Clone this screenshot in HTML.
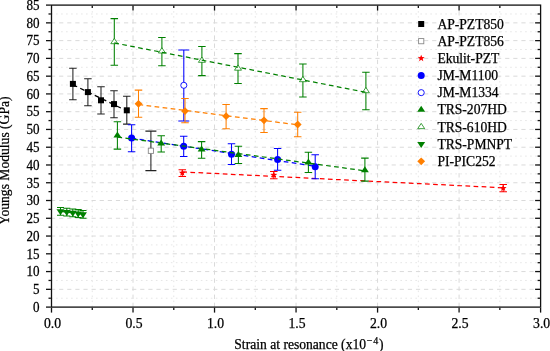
<!DOCTYPE html>
<html><head><meta charset="utf-8"><style>
html,body{margin:0;padding:0;background:#fff;}
svg{display:block;will-change:transform;}
text{font-family:'Liberation Serif',serif;fill:#000;stroke:#000;stroke-width:0.25px;}
</style></head><body>
<svg width="550" height="351" viewBox="0 0 550 351">
<rect width="550" height="351" fill="#fff"/>
<line x1="51.5" y1="298.22" x2="540.6" y2="298.22" stroke="#e6e6e6" stroke-width="1" stroke-dasharray="1.6 3.39" stroke-dashoffset="0.4"/>
<line x1="51.5" y1="280.45" x2="540.6" y2="280.45" stroke="#e6e6e6" stroke-width="1" stroke-dasharray="1.6 3.39" stroke-dashoffset="0.4"/>
<line x1="51.5" y1="262.69" x2="540.6" y2="262.69" stroke="#e6e6e6" stroke-width="1" stroke-dasharray="1.6 3.39" stroke-dashoffset="0.4"/>
<line x1="51.5" y1="244.92" x2="540.6" y2="244.92" stroke="#e6e6e6" stroke-width="1" stroke-dasharray="1.6 3.39" stroke-dashoffset="0.4"/>
<line x1="51.5" y1="227.16" x2="540.6" y2="227.16" stroke="#e6e6e6" stroke-width="1" stroke-dasharray="1.6 3.39" stroke-dashoffset="0.4"/>
<line x1="51.5" y1="209.39" x2="540.6" y2="209.39" stroke="#e6e6e6" stroke-width="1" stroke-dasharray="1.6 3.39" stroke-dashoffset="0.4"/>
<line x1="51.5" y1="191.63" x2="540.6" y2="191.63" stroke="#e6e6e6" stroke-width="1" stroke-dasharray="1.6 3.39" stroke-dashoffset="0.4"/>
<line x1="51.5" y1="173.86" x2="540.6" y2="173.86" stroke="#e6e6e6" stroke-width="1" stroke-dasharray="1.6 3.39" stroke-dashoffset="0.4"/>
<line x1="51.5" y1="156.10" x2="540.6" y2="156.10" stroke="#e6e6e6" stroke-width="1" stroke-dasharray="1.6 3.39" stroke-dashoffset="0.4"/>
<line x1="51.5" y1="138.34" x2="540.6" y2="138.34" stroke="#e6e6e6" stroke-width="1" stroke-dasharray="1.6 3.39" stroke-dashoffset="0.4"/>
<line x1="51.5" y1="120.57" x2="540.6" y2="120.57" stroke="#e6e6e6" stroke-width="1" stroke-dasharray="1.6 3.39" stroke-dashoffset="0.4"/>
<line x1="51.5" y1="102.81" x2="540.6" y2="102.81" stroke="#e6e6e6" stroke-width="1" stroke-dasharray="1.6 3.39" stroke-dashoffset="0.4"/>
<line x1="51.5" y1="85.04" x2="540.6" y2="85.04" stroke="#e6e6e6" stroke-width="1" stroke-dasharray="1.6 3.39" stroke-dashoffset="0.4"/>
<line x1="51.5" y1="67.28" x2="540.6" y2="67.28" stroke="#e6e6e6" stroke-width="1" stroke-dasharray="1.6 3.39" stroke-dashoffset="0.4"/>
<line x1="51.5" y1="49.51" x2="540.6" y2="49.51" stroke="#e6e6e6" stroke-width="1" stroke-dasharray="1.6 3.39" stroke-dashoffset="0.4"/>
<line x1="51.5" y1="31.75" x2="540.6" y2="31.75" stroke="#e6e6e6" stroke-width="1" stroke-dasharray="1.6 3.39" stroke-dashoffset="0.4"/>
<line x1="51.5" y1="13.98" x2="540.6" y2="13.98" stroke="#e6e6e6" stroke-width="1" stroke-dasharray="1.6 3.39" stroke-dashoffset="0.4"/>
<line x1="92.26" y1="307.1" x2="92.26" y2="5.1" stroke="#e6e6e6" stroke-width="1" stroke-dasharray="1.6 3.39"/>
<line x1="173.78" y1="307.1" x2="173.78" y2="5.1" stroke="#e6e6e6" stroke-width="1" stroke-dasharray="1.6 3.39"/>
<line x1="255.29" y1="307.1" x2="255.29" y2="5.1" stroke="#e6e6e6" stroke-width="1" stroke-dasharray="1.6 3.39"/>
<line x1="336.81" y1="307.1" x2="336.81" y2="5.1" stroke="#e6e6e6" stroke-width="1" stroke-dasharray="1.6 3.39"/>
<line x1="418.33" y1="307.1" x2="418.33" y2="5.1" stroke="#e6e6e6" stroke-width="1" stroke-dasharray="1.6 3.39"/>
<line x1="499.84" y1="307.1" x2="499.84" y2="5.1" stroke="#e6e6e6" stroke-width="1" stroke-dasharray="1.6 3.39"/>
<line x1="51.5" y1="289.34" x2="540.6" y2="289.34" stroke="#dadada" stroke-width="1" stroke-dasharray="4.2 3.91" stroke-dashoffset="0.5"/>
<line x1="51.5" y1="271.57" x2="540.6" y2="271.57" stroke="#dadada" stroke-width="1" stroke-dasharray="4.2 3.91" stroke-dashoffset="0.5"/>
<line x1="51.5" y1="253.81" x2="540.6" y2="253.81" stroke="#dadada" stroke-width="1" stroke-dasharray="4.2 3.91" stroke-dashoffset="0.5"/>
<line x1="51.5" y1="236.04" x2="540.6" y2="236.04" stroke="#dadada" stroke-width="1" stroke-dasharray="4.2 3.91" stroke-dashoffset="0.5"/>
<line x1="51.5" y1="218.28" x2="540.6" y2="218.28" stroke="#dadada" stroke-width="1" stroke-dasharray="4.2 3.91" stroke-dashoffset="0.5"/>
<line x1="51.5" y1="200.51" x2="540.6" y2="200.51" stroke="#dadada" stroke-width="1" stroke-dasharray="4.2 3.91" stroke-dashoffset="0.5"/>
<line x1="51.5" y1="182.75" x2="540.6" y2="182.75" stroke="#dadada" stroke-width="1" stroke-dasharray="4.2 3.91" stroke-dashoffset="0.5"/>
<line x1="51.5" y1="164.98" x2="540.6" y2="164.98" stroke="#dadada" stroke-width="1" stroke-dasharray="4.2 3.91" stroke-dashoffset="0.5"/>
<line x1="51.5" y1="147.22" x2="540.6" y2="147.22" stroke="#dadada" stroke-width="1" stroke-dasharray="4.2 3.91" stroke-dashoffset="0.5"/>
<line x1="51.5" y1="129.45" x2="540.6" y2="129.45" stroke="#dadada" stroke-width="1" stroke-dasharray="4.2 3.91" stroke-dashoffset="0.5"/>
<line x1="51.5" y1="111.69" x2="540.6" y2="111.69" stroke="#dadada" stroke-width="1" stroke-dasharray="4.2 3.91" stroke-dashoffset="0.5"/>
<line x1="51.5" y1="93.92" x2="540.6" y2="93.92" stroke="#dadada" stroke-width="1" stroke-dasharray="4.2 3.91" stroke-dashoffset="0.5"/>
<line x1="51.5" y1="76.16" x2="540.6" y2="76.16" stroke="#dadada" stroke-width="1" stroke-dasharray="4.2 3.91" stroke-dashoffset="0.5"/>
<line x1="51.5" y1="58.39" x2="540.6" y2="58.39" stroke="#dadada" stroke-width="1" stroke-dasharray="4.2 3.91" stroke-dashoffset="0.5"/>
<line x1="51.5" y1="40.63" x2="540.6" y2="40.63" stroke="#dadada" stroke-width="1" stroke-dasharray="4.2 3.91" stroke-dashoffset="0.5"/>
<line x1="51.5" y1="22.86" x2="540.6" y2="22.86" stroke="#dadada" stroke-width="1" stroke-dasharray="4.2 3.91" stroke-dashoffset="0.5"/>
<line x1="133.02" y1="307.1" x2="133.02" y2="5.1" stroke="#dadada" stroke-width="1" stroke-dasharray="4.4 3.7"/>
<line x1="214.53" y1="307.1" x2="214.53" y2="5.1" stroke="#dadada" stroke-width="1" stroke-dasharray="4.4 3.7"/>
<line x1="296.05" y1="307.1" x2="296.05" y2="5.1" stroke="#dadada" stroke-width="1" stroke-dasharray="4.4 3.7"/>
<line x1="377.57" y1="307.1" x2="377.57" y2="5.1" stroke="#dadada" stroke-width="1" stroke-dasharray="4.4 3.7"/>
<line x1="459.08" y1="307.1" x2="459.08" y2="5.1" stroke="#dadada" stroke-width="1" stroke-dasharray="4.4 3.7"/>
<path d="M72.90 68.30V99.70M69.15 68.30H76.65M69.15 99.70H76.65" stroke="#222" stroke-width="1.05" fill="none"/>
<path d="M87.90 78.80V105.80M84.15 78.80H91.65M84.15 105.80H91.65" stroke="#222" stroke-width="1.05" fill="none"/>
<path d="M101.00 86.80V114.00M97.25 86.80H104.75M97.25 114.00H104.75" stroke="#222" stroke-width="1.05" fill="none"/>
<path d="M114.00 90.80V117.80M110.25 90.80H117.75M110.25 117.80H117.75" stroke="#222" stroke-width="1.05" fill="none"/>
<path d="M126.80 96.20V124.10M123.05 96.20H130.55M123.05 124.10H130.55" stroke="#222" stroke-width="1.05" fill="none"/>
<rect x="69.90" y="80.90" width="6.00" height="6.00" fill="#000"/>
<rect x="84.90" y="89.10" width="6.00" height="6.00" fill="#000"/>
<rect x="98.00" y="97.30" width="6.00" height="6.00" fill="#000"/>
<rect x="111.00" y="101.10" width="6.00" height="6.00" fill="#000"/>
<rect x="123.80" y="107.30" width="6.00" height="6.00" fill="#000"/>
<path d="M72.90 84.74L126.80 110.89" stroke="#000" stroke-width="1.25" fill="none" stroke-dasharray="4.7 3.4" stroke-dashoffset="0"/>
<path d="M150.90 131.10V170.60M145.40 131.10H156.40M145.40 170.60H156.40" stroke="#222" stroke-width="1.05" fill="none"/>
<rect x="148.30" y="148.20" width="5.20" height="5.20" fill="#fff" stroke="#8a8a8a" stroke-width="0.9"/>
<path d="M182.30 169.70V176.50M178.55 169.70H186.05M178.55 176.50H186.05" stroke="#ff0000" stroke-width="1.05" fill="none"/>
<path d="M273.80 171.40V178.70M270.05 171.40H277.55M270.05 178.70H277.55" stroke="#ff0000" stroke-width="1.05" fill="none"/>
<path d="M503.20 184.50V191.80M499.45 184.50H506.95M499.45 191.80H506.95" stroke="#ff0000" stroke-width="1.05" fill="none"/>
<polygon points="182.30,169.30 183.21,171.65 185.72,171.79 183.77,173.38 184.42,175.81 182.30,174.45 180.18,175.81 180.83,173.38 178.88,171.79 181.39,171.65" fill="#ff0000"/>
<polygon points="273.80,171.40 274.71,173.75 277.22,173.89 275.27,175.48 275.92,177.91 273.80,176.55 271.68,177.91 272.33,175.48 270.38,173.89 272.89,173.75" fill="#ff0000"/>
<polygon points="503.20,184.60 504.11,186.95 506.62,187.09 504.67,188.68 505.32,191.11 503.20,189.75 501.08,191.11 501.73,188.68 499.78,187.09 502.29,186.95" fill="#ff0000"/>
<path d="M182.30 171.88L503.20 187.79" stroke="#ff0000" stroke-width="1.25" fill="none" stroke-dasharray="4.7 3.4" stroke-dashoffset="0"/>
<path d="M131.60 124.80V151.80M127.85 124.80H135.35M127.85 151.80H135.35" stroke="#0000ff" stroke-width="1.05" fill="none"/>
<path d="M183.70 136.30V156.50M179.95 136.30H187.45M179.95 156.50H187.45" stroke="#0000ff" stroke-width="1.05" fill="none"/>
<path d="M231.50 143.80V164.50M227.75 143.80H235.25M227.75 164.50H235.25" stroke="#0000ff" stroke-width="1.05" fill="none"/>
<path d="M277.60 148.50V170.30M273.85 148.50H281.35M273.85 170.30H281.35" stroke="#0000ff" stroke-width="1.05" fill="none"/>
<path d="M315.20 154.80V178.70M311.45 154.80H318.95M311.45 178.70H318.95" stroke="#0000ff" stroke-width="1.05" fill="none"/>
<circle cx="131.60" cy="138.00" r="3.50" fill="#0000ff"/>
<circle cx="183.70" cy="146.30" r="3.50" fill="#0000ff"/>
<circle cx="231.50" cy="154.30" r="3.50" fill="#0000ff"/>
<circle cx="277.60" cy="159.40" r="3.50" fill="#0000ff"/>
<circle cx="315.20" cy="166.80" r="3.50" fill="#0000ff"/>
<path d="M131.60 138.20L315.20 166.33" stroke="#0000ff" stroke-width="1.25" fill="none" stroke-dasharray="4.7 3.4" stroke-dashoffset="0"/>
<path d="M183.80 50.00V121.00M178.30 50.00H189.30M178.30 121.00H189.30" stroke="#0000ff" stroke-width="1.05" fill="none"/>
<circle cx="183.80" cy="85.30" r="3.05" fill="#fff" stroke="#0000ff" stroke-width="0.9"/>
<path d="M117.40 121.70V149.10M113.65 121.70H121.15M113.65 149.10H121.15" stroke="#008000" stroke-width="1.05" fill="none"/>
<path d="M161.20 135.70V152.00M157.45 135.70H164.95M157.45 152.00H164.95" stroke="#008000" stroke-width="1.05" fill="none"/>
<path d="M201.60 141.60V158.20M197.85 141.60H205.35M197.85 158.20H205.35" stroke="#008000" stroke-width="1.05" fill="none"/>
<path d="M238.40 146.20V163.40M234.65 146.20H242.15M234.65 163.40H242.15" stroke="#008000" stroke-width="1.05" fill="none"/>
<path d="M308.40 152.20V172.40M304.65 152.20H312.15M304.65 172.40H312.15" stroke="#008000" stroke-width="1.05" fill="none"/>
<path d="M364.90 158.10V181.10M361.15 158.10H368.65M361.15 181.10H368.65" stroke="#008000" stroke-width="1.05" fill="none"/>
<polygon points="117.40,131.40 121.35,137.40 113.45,137.40" fill="#008000"/>
<polygon points="161.20,139.60 165.15,145.60 157.25,145.60" fill="#008000"/>
<polygon points="201.60,145.50 205.55,151.50 197.65,151.50" fill="#008000"/>
<polygon points="238.40,151.00 242.35,157.00 234.45,157.00" fill="#008000"/>
<polygon points="308.40,158.40 312.35,164.40 304.45,164.40" fill="#008000"/>
<polygon points="364.90,166.20 368.85,172.20 360.95,172.20" fill="#008000"/>
<path d="M117.40 137.07L364.90 170.79" stroke="#008000" stroke-width="1.25" fill="none" stroke-dasharray="4.7 3.4" stroke-dashoffset="0"/>
<path d="M114.30 18.60V65.20M110.55 18.60H118.05M110.55 65.20H118.05" stroke="#008000" stroke-width="1.05" fill="none"/>
<path d="M161.90 37.40V65.80M158.15 37.40H165.65M158.15 65.80H165.65" stroke="#008000" stroke-width="1.05" fill="none"/>
<path d="M201.90 46.50V75.60M198.15 46.50H205.65M198.15 75.60H205.65" stroke="#008000" stroke-width="1.05" fill="none"/>
<path d="M238.00 53.60V83.50M234.25 53.60H241.75M234.25 83.50H241.75" stroke="#008000" stroke-width="1.05" fill="none"/>
<path d="M302.90 63.90V96.90M299.15 63.90H306.65M299.15 96.90H306.65" stroke="#008000" stroke-width="1.05" fill="none"/>
<path d="M365.90 72.20V109.80M362.15 72.20H369.65M362.15 109.80H369.65" stroke="#008000" stroke-width="1.05" fill="none"/>
<polygon points="114.30,38.40 117.80,43.70 110.80,43.70" fill="#fff" stroke="#008000" stroke-width="0.75"/>
<polygon points="161.90,47.70 165.40,53.00 158.40,53.00" fill="#fff" stroke="#008000" stroke-width="0.75"/>
<polygon points="201.90,57.00 205.40,62.30 198.40,62.30" fill="#fff" stroke="#008000" stroke-width="0.75"/>
<polygon points="238.00,64.90 241.50,70.20 234.50,70.20" fill="#fff" stroke="#008000" stroke-width="0.75"/>
<polygon points="302.90,76.40 306.40,81.70 299.40,81.70" fill="#fff" stroke="#008000" stroke-width="0.75"/>
<polygon points="365.90,87.40 369.40,92.70 362.40,92.70" fill="#fff" stroke="#008000" stroke-width="0.75"/>
<path d="M114.30 42.95L365.90 92.32" stroke="#008000" stroke-width="1.25" fill="none" stroke-dasharray="4.7 3.4" stroke-dashoffset="0"/>
<path d="M60.50 207.40V215.20M57.00 207.40H64.00M57.00 215.20H64.00" stroke="#008000" stroke-width="1.05" fill="none"/>
<path d="M66.80 208.20V216.00M63.30 208.20H70.30M63.30 216.00H70.30" stroke="#008000" stroke-width="1.05" fill="none"/>
<path d="M72.80 208.90V216.70M69.30 208.90H76.30M69.30 216.70H76.30" stroke="#008000" stroke-width="1.05" fill="none"/>
<path d="M78.20 209.60V217.40M74.70 209.60H81.70M74.70 217.40H81.70" stroke="#008000" stroke-width="1.05" fill="none"/>
<path d="M83.00 210.40V218.20M79.50 210.40H86.50M79.50 218.20H86.50" stroke="#008000" stroke-width="1.05" fill="none"/>
<polygon points="60.50,215.30 64.45,209.30 56.55,209.30" fill="#008000"/>
<polygon points="66.80,216.10 70.75,210.10 62.85,210.10" fill="#008000"/>
<polygon points="72.80,216.80 76.75,210.80 68.85,210.80" fill="#008000"/>
<polygon points="78.20,217.50 82.15,211.50 74.25,211.50" fill="#008000"/>
<polygon points="83.00,218.30 86.95,212.30 79.05,212.30" fill="#008000"/>
<path d="M60.50 211.26L83.00 214.20" stroke="#008000" stroke-width="1.25" fill="none" stroke-dasharray="4.7 3.4" stroke-dashoffset="0"/>
<path d="M138.50 90.10V117.30M134.75 90.10H142.25M134.75 117.30H142.25" stroke="#ff7f00" stroke-width="1.05" fill="none"/>
<path d="M185.00 98.50V122.70M181.25 98.50H188.75M181.25 122.70H188.75" stroke="#ff7f00" stroke-width="1.05" fill="none"/>
<path d="M226.10 104.40V128.70M222.35 104.40H229.85M222.35 128.70H229.85" stroke="#ff7f00" stroke-width="1.05" fill="none"/>
<path d="M264.00 108.60V132.50M260.25 108.60H267.75M260.25 132.50H267.75" stroke="#ff7f00" stroke-width="1.05" fill="none"/>
<path d="M297.70 112.30V136.80M293.95 112.30H301.45M293.95 136.80H301.45" stroke="#ff7f00" stroke-width="1.05" fill="none"/>
<polygon points="138.50,99.90 142.40,103.80 138.50,107.70 134.60,103.80" fill="#ff7f00"/>
<polygon points="185.00,107.20 188.90,111.10 185.00,115.00 181.10,111.10" fill="#ff7f00"/>
<polygon points="226.10,112.30 230.00,116.20 226.10,120.10 222.20,116.20" fill="#ff7f00"/>
<polygon points="264.00,116.40 267.90,120.30 264.00,124.20 260.10,120.30" fill="#ff7f00"/>
<polygon points="297.70,120.60 301.60,124.50 297.70,128.40 293.80,124.50" fill="#ff7f00"/>
<path d="M138.50 104.48L297.70 124.82" stroke="#ff7f00" stroke-width="1.25" fill="none" stroke-dasharray="4.7 3.4" stroke-dashoffset="0"/>
<rect x="51.5" y="5.1" width="489.1" height="302.0" fill="none" stroke="#111" stroke-width="1.3"/>
<line x1="46.00" y1="307.10" x2="50.90" y2="307.10" stroke="#111" stroke-width="1.3"/>
<line x1="48.50" y1="298.22" x2="50.90" y2="298.22" stroke="#111" stroke-width="1.3"/>
<line x1="537.60" y1="298.22" x2="540.00" y2="298.22" stroke="#111" stroke-width="1.3"/>
<line x1="46.00" y1="289.34" x2="50.90" y2="289.34" stroke="#111" stroke-width="1.3"/>
<line x1="535.10" y1="289.34" x2="540.00" y2="289.34" stroke="#111" stroke-width="1.3"/>
<line x1="48.50" y1="280.45" x2="50.90" y2="280.45" stroke="#111" stroke-width="1.3"/>
<line x1="537.60" y1="280.45" x2="540.00" y2="280.45" stroke="#111" stroke-width="1.3"/>
<line x1="46.00" y1="271.57" x2="50.90" y2="271.57" stroke="#111" stroke-width="1.3"/>
<line x1="535.10" y1="271.57" x2="540.00" y2="271.57" stroke="#111" stroke-width="1.3"/>
<line x1="48.50" y1="262.69" x2="50.90" y2="262.69" stroke="#111" stroke-width="1.3"/>
<line x1="537.60" y1="262.69" x2="540.00" y2="262.69" stroke="#111" stroke-width="1.3"/>
<line x1="46.00" y1="253.81" x2="50.90" y2="253.81" stroke="#111" stroke-width="1.3"/>
<line x1="535.10" y1="253.81" x2="540.00" y2="253.81" stroke="#111" stroke-width="1.3"/>
<line x1="48.50" y1="244.92" x2="50.90" y2="244.92" stroke="#111" stroke-width="1.3"/>
<line x1="537.60" y1="244.92" x2="540.00" y2="244.92" stroke="#111" stroke-width="1.3"/>
<line x1="46.00" y1="236.04" x2="50.90" y2="236.04" stroke="#111" stroke-width="1.3"/>
<line x1="535.10" y1="236.04" x2="540.00" y2="236.04" stroke="#111" stroke-width="1.3"/>
<line x1="48.50" y1="227.16" x2="50.90" y2="227.16" stroke="#111" stroke-width="1.3"/>
<line x1="537.60" y1="227.16" x2="540.00" y2="227.16" stroke="#111" stroke-width="1.3"/>
<line x1="46.00" y1="218.28" x2="50.90" y2="218.28" stroke="#111" stroke-width="1.3"/>
<line x1="535.10" y1="218.28" x2="540.00" y2="218.28" stroke="#111" stroke-width="1.3"/>
<line x1="48.50" y1="209.39" x2="50.90" y2="209.39" stroke="#111" stroke-width="1.3"/>
<line x1="537.60" y1="209.39" x2="540.00" y2="209.39" stroke="#111" stroke-width="1.3"/>
<line x1="46.00" y1="200.51" x2="50.90" y2="200.51" stroke="#111" stroke-width="1.3"/>
<line x1="535.10" y1="200.51" x2="540.00" y2="200.51" stroke="#111" stroke-width="1.3"/>
<line x1="48.50" y1="191.63" x2="50.90" y2="191.63" stroke="#111" stroke-width="1.3"/>
<line x1="537.60" y1="191.63" x2="540.00" y2="191.63" stroke="#111" stroke-width="1.3"/>
<line x1="46.00" y1="182.75" x2="50.90" y2="182.75" stroke="#111" stroke-width="1.3"/>
<line x1="535.10" y1="182.75" x2="540.00" y2="182.75" stroke="#111" stroke-width="1.3"/>
<line x1="48.50" y1="173.86" x2="50.90" y2="173.86" stroke="#111" stroke-width="1.3"/>
<line x1="537.60" y1="173.86" x2="540.00" y2="173.86" stroke="#111" stroke-width="1.3"/>
<line x1="46.00" y1="164.98" x2="50.90" y2="164.98" stroke="#111" stroke-width="1.3"/>
<line x1="535.10" y1="164.98" x2="540.00" y2="164.98" stroke="#111" stroke-width="1.3"/>
<line x1="48.50" y1="156.10" x2="50.90" y2="156.10" stroke="#111" stroke-width="1.3"/>
<line x1="537.60" y1="156.10" x2="540.00" y2="156.10" stroke="#111" stroke-width="1.3"/>
<line x1="46.00" y1="147.22" x2="50.90" y2="147.22" stroke="#111" stroke-width="1.3"/>
<line x1="535.10" y1="147.22" x2="540.00" y2="147.22" stroke="#111" stroke-width="1.3"/>
<line x1="48.50" y1="138.34" x2="50.90" y2="138.34" stroke="#111" stroke-width="1.3"/>
<line x1="537.60" y1="138.34" x2="540.00" y2="138.34" stroke="#111" stroke-width="1.3"/>
<line x1="46.00" y1="129.45" x2="50.90" y2="129.45" stroke="#111" stroke-width="1.3"/>
<line x1="535.10" y1="129.45" x2="540.00" y2="129.45" stroke="#111" stroke-width="1.3"/>
<line x1="48.50" y1="120.57" x2="50.90" y2="120.57" stroke="#111" stroke-width="1.3"/>
<line x1="537.60" y1="120.57" x2="540.00" y2="120.57" stroke="#111" stroke-width="1.3"/>
<line x1="46.00" y1="111.69" x2="50.90" y2="111.69" stroke="#111" stroke-width="1.3"/>
<line x1="535.10" y1="111.69" x2="540.00" y2="111.69" stroke="#111" stroke-width="1.3"/>
<line x1="48.50" y1="102.81" x2="50.90" y2="102.81" stroke="#111" stroke-width="1.3"/>
<line x1="537.60" y1="102.81" x2="540.00" y2="102.81" stroke="#111" stroke-width="1.3"/>
<line x1="46.00" y1="93.92" x2="50.90" y2="93.92" stroke="#111" stroke-width="1.3"/>
<line x1="535.10" y1="93.92" x2="540.00" y2="93.92" stroke="#111" stroke-width="1.3"/>
<line x1="48.50" y1="85.04" x2="50.90" y2="85.04" stroke="#111" stroke-width="1.3"/>
<line x1="537.60" y1="85.04" x2="540.00" y2="85.04" stroke="#111" stroke-width="1.3"/>
<line x1="46.00" y1="76.16" x2="50.90" y2="76.16" stroke="#111" stroke-width="1.3"/>
<line x1="535.10" y1="76.16" x2="540.00" y2="76.16" stroke="#111" stroke-width="1.3"/>
<line x1="48.50" y1="67.28" x2="50.90" y2="67.28" stroke="#111" stroke-width="1.3"/>
<line x1="537.60" y1="67.28" x2="540.00" y2="67.28" stroke="#111" stroke-width="1.3"/>
<line x1="46.00" y1="58.39" x2="50.90" y2="58.39" stroke="#111" stroke-width="1.3"/>
<line x1="535.10" y1="58.39" x2="540.00" y2="58.39" stroke="#111" stroke-width="1.3"/>
<line x1="48.50" y1="49.51" x2="50.90" y2="49.51" stroke="#111" stroke-width="1.3"/>
<line x1="537.60" y1="49.51" x2="540.00" y2="49.51" stroke="#111" stroke-width="1.3"/>
<line x1="46.00" y1="40.63" x2="50.90" y2="40.63" stroke="#111" stroke-width="1.3"/>
<line x1="535.10" y1="40.63" x2="540.00" y2="40.63" stroke="#111" stroke-width="1.3"/>
<line x1="48.50" y1="31.75" x2="50.90" y2="31.75" stroke="#111" stroke-width="1.3"/>
<line x1="537.60" y1="31.75" x2="540.00" y2="31.75" stroke="#111" stroke-width="1.3"/>
<line x1="46.00" y1="22.86" x2="50.90" y2="22.86" stroke="#111" stroke-width="1.3"/>
<line x1="535.10" y1="22.86" x2="540.00" y2="22.86" stroke="#111" stroke-width="1.3"/>
<line x1="48.50" y1="13.98" x2="50.90" y2="13.98" stroke="#111" stroke-width="1.3"/>
<line x1="537.60" y1="13.98" x2="540.00" y2="13.98" stroke="#111" stroke-width="1.3"/>
<line x1="46.00" y1="5.10" x2="50.90" y2="5.10" stroke="#111" stroke-width="1.3"/>
<line x1="51.50" y1="307.70" x2="51.50" y2="312.60" stroke="#111" stroke-width="1.3"/>
<line x1="92.26" y1="307.70" x2="92.26" y2="310.10" stroke="#111" stroke-width="1.3"/>
<line x1="92.26" y1="5.70" x2="92.26" y2="8.10" stroke="#111" stroke-width="1.3"/>
<line x1="133.02" y1="307.70" x2="133.02" y2="312.60" stroke="#111" stroke-width="1.3"/>
<line x1="133.02" y1="5.70" x2="133.02" y2="10.60" stroke="#111" stroke-width="1.3"/>
<line x1="173.78" y1="307.70" x2="173.78" y2="310.10" stroke="#111" stroke-width="1.3"/>
<line x1="173.78" y1="5.70" x2="173.78" y2="8.10" stroke="#111" stroke-width="1.3"/>
<line x1="214.53" y1="307.70" x2="214.53" y2="312.60" stroke="#111" stroke-width="1.3"/>
<line x1="214.53" y1="5.70" x2="214.53" y2="10.60" stroke="#111" stroke-width="1.3"/>
<line x1="255.29" y1="307.70" x2="255.29" y2="310.10" stroke="#111" stroke-width="1.3"/>
<line x1="255.29" y1="5.70" x2="255.29" y2="8.10" stroke="#111" stroke-width="1.3"/>
<line x1="296.05" y1="307.70" x2="296.05" y2="312.60" stroke="#111" stroke-width="1.3"/>
<line x1="296.05" y1="5.70" x2="296.05" y2="10.60" stroke="#111" stroke-width="1.3"/>
<line x1="336.81" y1="307.70" x2="336.81" y2="310.10" stroke="#111" stroke-width="1.3"/>
<line x1="336.81" y1="5.70" x2="336.81" y2="8.10" stroke="#111" stroke-width="1.3"/>
<line x1="377.57" y1="307.70" x2="377.57" y2="312.60" stroke="#111" stroke-width="1.3"/>
<line x1="377.57" y1="5.70" x2="377.57" y2="10.60" stroke="#111" stroke-width="1.3"/>
<line x1="418.33" y1="307.70" x2="418.33" y2="310.10" stroke="#111" stroke-width="1.3"/>
<line x1="418.33" y1="5.70" x2="418.33" y2="8.10" stroke="#111" stroke-width="1.3"/>
<line x1="459.08" y1="307.70" x2="459.08" y2="312.60" stroke="#111" stroke-width="1.3"/>
<line x1="459.08" y1="5.70" x2="459.08" y2="10.60" stroke="#111" stroke-width="1.3"/>
<line x1="499.84" y1="307.70" x2="499.84" y2="310.10" stroke="#111" stroke-width="1.3"/>
<line x1="499.84" y1="5.70" x2="499.84" y2="8.10" stroke="#111" stroke-width="1.3"/>
<line x1="540.60" y1="307.70" x2="540.60" y2="312.60" stroke="#111" stroke-width="1.3"/>
<text x="39.6" y="311.90" text-anchor="end" font-size="13.7" transform="translate(39.6 311.90) scale(0.955 1.03) translate(-39.6 -311.90)">0</text>
<text x="39.6" y="294.14" text-anchor="end" font-size="13.7" transform="translate(39.6 294.14) scale(0.955 1.03) translate(-39.6 -294.14)">5</text>
<text x="39.6" y="276.37" text-anchor="end" font-size="13.7" transform="translate(39.6 276.37) scale(0.955 1.03) translate(-39.6 -276.37)">10</text>
<text x="39.6" y="258.61" text-anchor="end" font-size="13.7" transform="translate(39.6 258.61) scale(0.955 1.03) translate(-39.6 -258.61)">15</text>
<text x="39.6" y="240.84" text-anchor="end" font-size="13.7" transform="translate(39.6 240.84) scale(0.955 1.03) translate(-39.6 -240.84)">20</text>
<text x="39.6" y="223.08" text-anchor="end" font-size="13.7" transform="translate(39.6 223.08) scale(0.955 1.03) translate(-39.6 -223.08)">25</text>
<text x="39.6" y="205.31" text-anchor="end" font-size="13.7" transform="translate(39.6 205.31) scale(0.955 1.03) translate(-39.6 -205.31)">30</text>
<text x="39.6" y="187.55" text-anchor="end" font-size="13.7" transform="translate(39.6 187.55) scale(0.955 1.03) translate(-39.6 -187.55)">35</text>
<text x="39.6" y="169.78" text-anchor="end" font-size="13.7" transform="translate(39.6 169.78) scale(0.955 1.03) translate(-39.6 -169.78)">40</text>
<text x="39.6" y="152.02" text-anchor="end" font-size="13.7" transform="translate(39.6 152.02) scale(0.955 1.03) translate(-39.6 -152.02)">45</text>
<text x="39.6" y="134.25" text-anchor="end" font-size="13.7" transform="translate(39.6 134.25) scale(0.955 1.03) translate(-39.6 -134.25)">50</text>
<text x="39.6" y="116.49" text-anchor="end" font-size="13.7" transform="translate(39.6 116.49) scale(0.955 1.03) translate(-39.6 -116.49)">55</text>
<text x="39.6" y="98.72" text-anchor="end" font-size="13.7" transform="translate(39.6 98.72) scale(0.955 1.03) translate(-39.6 -98.72)">60</text>
<text x="39.6" y="80.96" text-anchor="end" font-size="13.7" transform="translate(39.6 80.96) scale(0.955 1.03) translate(-39.6 -80.96)">65</text>
<text x="39.6" y="63.19" text-anchor="end" font-size="13.7" transform="translate(39.6 63.19) scale(0.955 1.03) translate(-39.6 -63.19)">70</text>
<text x="39.6" y="45.43" text-anchor="end" font-size="13.7" transform="translate(39.6 45.43) scale(0.955 1.03) translate(-39.6 -45.43)">75</text>
<text x="39.6" y="27.66" text-anchor="end" font-size="13.7" transform="translate(39.6 27.66) scale(0.955 1.03) translate(-39.6 -27.66)">80</text>
<text x="39.6" y="9.90" text-anchor="end" font-size="13.7" transform="translate(39.6 9.90) scale(0.955 1.03) translate(-39.6 -9.90)">85</text>
<text x="52.50" y="327.9" text-anchor="middle" font-size="13.7">0.0</text>
<text x="134.02" y="327.9" text-anchor="middle" font-size="13.7">0.5</text>
<text x="215.53" y="327.9" text-anchor="middle" font-size="13.7">1.0</text>
<text x="297.05" y="327.9" text-anchor="middle" font-size="13.7">1.5</text>
<text x="378.57" y="327.9" text-anchor="middle" font-size="13.7">2.0</text>
<text x="460.08" y="327.9" text-anchor="middle" font-size="13.7">2.5</text>
<text x="541.60" y="327.9" text-anchor="middle" font-size="13.7">3.0</text>
<text x="234.3" y="348.5" font-size="13.6">Strain at resonance (x10<tspan font-size="10" dx="0.8" dy="-4.8">−</tspan><tspan font-size="10" dx="0.8">4</tspan><tspan dx="0.8" dy="4.8">)</tspan></text>
<text transform="translate(9.4,225.0) rotate(-90)" x="0" y="0" font-size="13.6">Youngs Modulus (GPa)</text>
<rect x="418.20" y="21.00" width="6.00" height="6.00" fill="#000"/>
<text x="437.4" y="28.55" font-size="13.6">AP-PZT850</text>
<rect x="418.60" y="38.56" width="5.20" height="5.20" fill="#fff" stroke="#8a8a8a" stroke-width="0.9"/>
<text x="437.4" y="45.71" font-size="13.6">AP-PZT856</text>
<polygon points="421.20,54.72 422.11,57.07 424.62,57.21 422.67,58.80 423.32,61.23 421.20,59.87 419.08,61.23 419.73,58.80 417.78,57.21 420.29,57.07" fill="#ff0000"/>
<text x="437.4" y="62.87" font-size="13.6">Ekulit-PZT</text>
<circle cx="421.20" cy="75.48" r="3.50" fill="#0000ff"/>
<text x="437.4" y="80.03" font-size="13.6">JM-M1100</text>
<circle cx="421.20" cy="92.64" r="3.05" fill="#fff" stroke="#0000ff" stroke-width="0.9"/>
<text x="437.4" y="97.19" font-size="13.6">JM-M1334</text>
<polygon points="421.20,105.80 425.15,111.80 417.25,111.80" fill="#008000"/>
<text x="437.4" y="114.35" font-size="13.6">TRS-207HD</text>
<polygon points="421.20,123.36 424.70,128.66 417.70,128.66" fill="#fff" stroke="#008000" stroke-width="0.75"/>
<text x="437.4" y="131.51" font-size="13.6">TRS-610HD</text>
<polygon points="421.20,148.12 425.15,142.12 417.25,142.12" fill="#008000"/>
<text x="437.4" y="148.67" font-size="13.6">TRS-PMNPT</text>
<polygon points="421.20,157.38 425.10,161.28 421.20,165.18 417.30,161.28" fill="#ff7f00"/>
<text x="437.4" y="165.83" font-size="13.6">PI-PIC252</text>
</svg>
</body></html>
